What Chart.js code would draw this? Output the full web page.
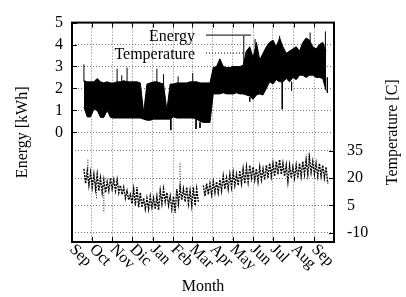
<!DOCTYPE html>
<html>
<head>
<meta charset="utf-8">
<script src="https://cdn.jsdelivr.net/npm/chart.js@4.4.1/dist/chart.umd.min.js"></script>
<style>
  html, body { margin: 0; padding: 0; background: #fff; }
  #wrap { width: 406px; height: 297px; }
</style>
</head>
<body>
<div id="wrap"><canvas id="energyChart" width="406" height="297"></canvas></div>
<script>
// x values are days counted from 1 Sep; the bands are sampled every 5 days
const monthLabels = ['Sep', 'Oct', 'Nov', 'Dic', 'Jan', 'Feb', 'Mar', 'Apr', 'May', 'Jun', 'Jul', 'Aug', 'Sep'];
const monthStartDays = [0, 30, 61, 91, 122, 153, 181, 212, 242, 273, 303, 334, 365, 395];
const sampleStartDay = 18;
const sampleStepDays = 5;

const energyTicks = [0, 1, 2, 3, 4, 5];
const temperatureTicks = [-10, 5, 20, 35];

const energyHigh = [
  2.35, 2.3, 2.3, 2.3, 2.45, 2.3, 2.25, 2.3, 2.25, 2.25,
  2.3, 2.3, 2.35, 2.3, 2.3, 2.3, 2.3, 2.25, 0.9, 2.2,
  2.25, 2.3, 2.3, 2.25, 2.2, 1.0, 2.2, 2.2, 2.25, 2.25,
  2.25, 2.25, 2.3, 2.3, 2.3, 2.25, 2.25, 2.25, 2.25, 2.95,
  3.0, 3.35, 3.0, 2.95, 2.95, 3.0, 3.0, 3.0, 3.05, 3.7,
  3.9, 3.4, 4.1, 3.3, 3.6, 3.9, 4.1, 4.2, 3.9, 4.3,
  3.9, 3.6, 3.7, 3.8, 3.9, 3.7, 4.1, 4.3, 4.2, 3.9,
  3.8, 4.0, 4.1, 3.7
];
const energyLow = [
  1.15, 0.7, 0.7, 1.05, 1.0, 0.68, 0.68, 1.0, 0.68, 0.65,
  0.65, 0.65, 0.65, 0.65, 0.65, 0.65, 0.65, 0.65, 0.6, 0.55,
  0.55, 0.6, 0.6, 0.6, 0.6, 0.6, 0.6, 0.7, 0.65, 0.65,
  0.65, 0.65, 0.65, 0.65, 0.6, 0.5, 0.45, 0.45, 0.45, 1.75,
  1.75, 1.75, 1.8, 1.75, 1.75, 1.75, 1.8, 1.75, 1.75, 1.7,
  1.65, 1.5, 1.7, 1.75, 1.7, 2.0, 2.3, 2.2, 2.4, 2.3,
  2.3, 2.45, 2.3, 2.5, 2.4, 2.6, 2.6, 2.5, 2.6, 2.6,
  2.5, 2.5, 2.45, 1.9
];
const energySpikeDays = [18, 68, 75, 83, 128, 138, 149, 160, 182, 187, 193, 259, 268, 276, 313, 317, 331, 359, 382, 385];
const energySpikeFrom = [2.3, 2.3, 2.3, 2.3, 2.3, 2.2, 0.6, 2.2, 2.3, 0.6, 0.45, 3.0, 1.6, 3.9, 4.1, 2.3, 2.3, 4.1, 3.8, 2.5];
const energySpikeTo = [3.1, 2.9, 2.6, 2.95, 2.9, 2.65, 0.1, 2.55, 2.7, 0.15, 0.2, 4.4, 1.4, 4.25, 4.4, 1.05, 1.9, 4.55, 4.6, 1.8];

const temperatureHigh = [
  25, 24, 23, 22, 22, 20, 19, 18, 20, 19,
  19, 16, 15, 13, 11, 14, 15, 12, 9, 9,
  10, 9, 10, 13, 14, 12, 10, 10, 14, 15,
  14, 15, 13, 15, 14, null, 16, 17, 17, 18,
  18, 19, 21, 20, 22, 23, 22, 24, 25, 26,
  27, 26, 25, 26, 25, 27, 28, 28, 29, 30,
  28, 27, 27, 26, 27, 28, 29, 30, 31, 29,
  28, 28, 27, 26
];
const temperatureLow = [
  17, 16, 15, 14, 13, 12, 12, 13, 14, 13,
  12, 11, 9, 8, 6, 5, 4, 4, 3, 3,
  4, 3, 2.5, 6, 7, 5, 3, 1, 6, 8,
  7, 6, 5, 5, 7, null, 10, 11, 11, 12,
  12, 13, 14, 14, 15, 16, 16, 17, 17, 18,
  20, 19, 18, 19, 19, 20, 21, 21, 22, 22,
  21, 18, 20, 20, 20, 21, 22, 22, 23, 22,
  21, 21, 20, 17
];
const temperatureSpikeDays = [24, 37, 48, 163, 357];
const temperatureSpikeFrom = [24, 15, 12, 15, 30];
const temperatureSpikeTo = [30.5, 8.5, 1.5, 28.8, 33.6];

const FONT = '16px "Liberation Serif", "DejaVu Serif", serif';

function bandEdge(values) {
  return values.map((v, i) => ({ x: sampleStartDay + i * sampleStepDays, y: v }));
}

function zigzag(high, low) {
  const pts = [];
  high.forEach((h, i) => {
    const d = sampleStartDay + i * sampleStepDays;
    pts.push({ x: d, y: h });
    pts.push({ x: d + sampleStepDays / 2, y: low[i] });
  });
  return pts;
}

function spikes(days, from, to) {
  const pts = [];
  days.forEach((d, i) => {
    pts.push({ x: d, y: from[i] }, { x: d, y: to[i] }, { x: d, y: null });
  });
  return pts;
}

function fixTicks(values) {
  return scale => { scale.ticks = values.map(v => ({ value: v })); };
}

// box, inward tics, rotated month labels, axis titles and key, drawn gnuplot style
const gnuplotFrame = {
  id: 'gnuplotFrame',
  afterDatasetsDraw(chart) {
    const { ctx, chartArea: a, scales } = chart;
    const midY = (a.top + a.bottom) / 2;
    ctx.save();
    ctx.strokeStyle = '#000';
    ctx.fillStyle = '#000';

    ctx.lineWidth = 1;
    ctx.beginPath();
    scales.x.ticks.forEach(t => {
      const px = Math.round(scales.x.getPixelForValue(t.value)) + 0.5;
      ctx.moveTo(px, a.bottom); ctx.lineTo(px, a.bottom - 5);
      ctx.moveTo(px, a.top); ctx.lineTo(px, a.top + 5);
    });
    scales.y.ticks.forEach(t => {
      const py = Math.round(scales.y.getPixelForValue(t.value)) + 0.5;
      ctx.moveTo(a.left, py); ctx.lineTo(a.left + 5, py);
    });
    scales.y2.ticks.forEach(t => {
      const py = Math.round(scales.y2.getPixelForValue(t.value)) + 0.5;
      ctx.moveTo(a.right, py); ctx.lineTo(a.right - 5, py);
    });
    ctx.stroke();

    ctx.lineWidth = 2;
    ctx.strokeRect(a.left, a.top, a.right - a.left, a.bottom - a.top);

    ctx.font = FONT;
    ctx.textAlign = 'left';
    ctx.textBaseline = 'alphabetic';
    monthLabels.forEach((label, i) => {
      const px = scales.x.getPixelForValue(monthStartDays[i]);
      ctx.save();
      ctx.translate(px - 3, a.bottom + 8);
      ctx.rotate(Math.PI / 4);
      ctx.fillText(label, 0, 0);
      ctx.restore();
    });

    ctx.textAlign = 'center';
    ctx.fillText('Month', (a.left + a.right) / 2, a.bottom + 49);

    ctx.textBaseline = 'middle';
    [['Energy [kWh]', 23], ['Temperature [C]', a.right + 59]].forEach(([text, x]) => {
      ctx.save();
      ctx.translate(x, midY);
      ctx.rotate(-Math.PI / 2);
      ctx.fillText(text, 0, 0);
      ctx.restore();
    });

    // key
    ctx.textAlign = 'right';
    ctx.textBaseline = 'alphabetic';
    ctx.fillText('Energy', a.left + 123, a.top + 18);
    ctx.fillText('Temperature', a.left + 123, a.top + 36);
    ctx.lineWidth = 1;
    ctx.beginPath();
    ctx.moveTo(a.left + 134, a.top + 12.5);
    ctx.lineTo(a.left + 179, a.top + 12.5);
    ctx.stroke();
    ctx.setLineDash([1, 2]);
    ctx.beginPath();
    ctx.moveTo(a.left + 134, a.top + 30.5);
    ctx.lineTo(a.left + 179, a.top + 30.5);
    ctx.stroke();
    ctx.restore();
  }
};

const gridStyle = { color: '#777', lineWidth: 1, drawTicks: false };
const borderStyle = { display: false, dash: [1, 2] };
const tickFont = { family: '"Liberation Serif", "DejaVu Serif", serif', size: 16 };

new Chart(document.getElementById('energyChart'), {
  type: 'line',
  data: {
    datasets: [
      {
        label: 'Energy',
        data: bandEdge(energyHigh),
        yAxisID: 'y',
        borderColor: '#000',
        borderWidth: 1
      },
      {
        label: 'Energy low',
        data: bandEdge(energyLow),
        yAxisID: 'y',
        borderColor: '#000',
        borderWidth: 1,
        backgroundColor: '#000',
        fill: '-1'
      },
      {
        label: 'Energy spikes',
        data: spikes(energySpikeDays, energySpikeFrom, energySpikeTo),
        yAxisID: 'y',
        borderColor: '#000',
        borderWidth: 1
      },
      {
        label: 'Temperature',
        data: zigzag(temperatureHigh, temperatureLow),
        yAxisID: 'y2',
        borderColor: '#000',
        borderWidth: 1.4,
        borderDash: [2, 1]
      },
      {
        label: 'Temperature spikes',
        data: spikes(temperatureSpikeDays, temperatureSpikeFrom, temperatureSpikeTo),
        yAxisID: 'y2',
        borderColor: '#000',
        borderWidth: 1,
        borderDash: [1, 1.5]
      }
    ]
  },
  options: {
    responsive: false,
    animation: false,
    devicePixelRatio: 1,
    layout: { padding: { top: 13, left: 0, right: 0, bottom: 0 } },
    elements: { point: { radius: 0 }, line: { tension: 0 } },
    plugins: { legend: { display: false }, tooltip: { enabled: false } },
    scales: {
      x: {
        type: 'linear',
        min: 0,
        max: 395,
        afterBuildTicks: fixTicks(monthStartDays),
        afterFit: scale => { scale.height = 55; },
        grid: gridStyle,
        border: borderStyle,
        ticks: { display: false }
      },
      y: {
        position: 'left',
        min: -5,
        max: 5,
        afterBuildTicks: fixTicks(energyTicks),
        afterFit: scale => { scale.width = 72; },
        grid: gridStyle,
        border: borderStyle,
        ticks: { color: '#000', font: tickFont, padding: 9 }
      },
      y2: {
        position: 'right',
        min: -15,
        max: 105,
        afterBuildTicks: fixTicks(temperatureTicks),
        afterFit: scale => { scale.width = 72; },
        grid: gridStyle,
        border: borderStyle,
        ticks: { color: '#000', font: tickFont, padding: 13 }
      }
    }
  },
  plugins: [gnuplotFrame]
});
</script>
</body>
</html>
